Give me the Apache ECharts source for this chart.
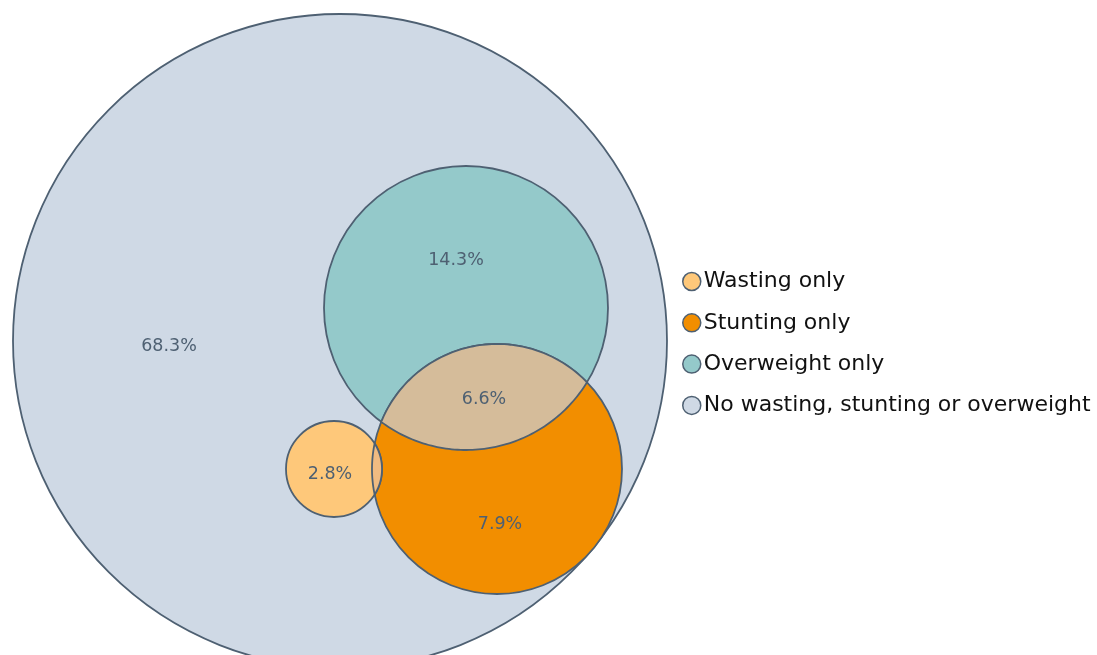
<!DOCTYPE html>
<html>
<head>
<meta charset="utf-8">
<script src="https://cdn.jsdelivr.net/npm/echarts@6/dist/echarts.min.js"></script>
<style>
  html, body { margin: 0; padding: 0; background: #fff; }
  #chart { width: 1097px; height: 655px; }
</style>
</head>
<body>
<div id="chart"></div>
<script>
// ---- data ----
const groupNames = ['No wasting, stunting or overweight', 'Overweight only', 'Stunting only', 'Wasting only'];
const groupShares = [68.3, 14.3, 7.9, 2.8];
const overlapName = 'Stunting and overweight';
const overlapShare = 6.6;
const legendOrder = ['Wasting only', 'Stunting only', 'Overweight only', 'No wasting, stunting or overweight'];

// ---- layout (Euler diagram geometry, layout units) ----
const circleCx = [340, 466, 497, 334];
const circleCy = [341, 308, 469, 469];
const circleR = [327, 142, 125, 48];
const labelPosX = [169, 456, 500, 330];
const labelPosY = [346, 260, 524, 474];
const overlapLabelPos = [484, 399];

// ---- styles ----
const fills = ['#CFD9E5', '#94C9CA', '#F28E00', '#FEC87A'];
const lensFills = { '1-2': '#D5BC9A', '3-2': '#F0BB81' };
const strokeColor = '#4E6072';
const labelColor = '#4E6072';
const FONT = '"DejaVu Sans", Verdana, sans-serif';

function circleItem(api, cx, cy, r, fill) {
  const c = api.coord([cx, cy]);
  const rr = api.size([r, 0])[0];
  return {
    type: 'circle',
    shape: { cx: c[0], cy: c[1], r: rr },
    style: { fill: fill, stroke: strokeColor, lineWidth: 1.8 }
  };
}

function textItem(api, x, y, txt) {
  const p = api.coord([x, y]);
  return {
    type: 'text',
    x: p[0], y: p[1],
    z2: 10,
    style: { text: txt, fill: labelColor, font: '17.5px ' + FONT, align: 'center', verticalAlign: 'middle' }
  };
}

function lensPoints(api, i, j) {
  const A = api.coord([circleCx[i], circleCy[i]]);
  const B = api.coord([circleCx[j], circleCy[j]]);
  const rA = api.size([circleR[i], 0])[0];
  const rB = api.size([circleR[j], 0])[0];
  const dx = B[0] - A[0], dy = B[1] - A[1];
  const d = Math.sqrt(dx * dx + dy * dy);
  const a = (rA * rA - rB * rB + d * d) / (2 * d);
  const b = d - a;
  const alpha = Math.acos(Math.max(-1, Math.min(1, a / rA)));
  const beta = Math.acos(Math.max(-1, Math.min(1, b / rB)));
  const phi = Math.atan2(dy, dx);
  const psi = phi + Math.PI;
  const pts = [];
  const N = 80;
  for (let k = 0; k <= N; k++) {
    const t = phi + alpha - (2 * alpha) * k / N;
    pts.push([A[0] + rA * Math.cos(t), A[1] + rA * Math.sin(t)]);
  }
  for (let k = 0; k <= N; k++) {
    const t = psi + beta - (2 * beta) * k / N;
    pts.push([B[0] + rB * Math.cos(t), B[1] + rB * Math.sin(t)]);
  }
  return pts;
}

const series = groupNames.map(function (name, idx) {
  return {
    name: name,
    type: 'custom',
    coordinateSystem: 'cartesian2d',
    silent: true,
    itemStyle: { color: fills[idx], borderColor: strokeColor, borderWidth: 1.5 },
    data: [[circleCx[idx], circleCy[idx], groupShares[idx]]],
    renderItem: function (params, api) {
      return {
        type: 'group',
        children: [
          circleItem(api, circleCx[idx], circleCy[idx], circleR[idx], fills[idx]),
          textItem(api, labelPosX[idx], labelPosY[idx], groupShares[idx].toFixed(1) + '%')
        ]
      };
    }
  };
});

series.push({
  name: overlapName,
  type: 'custom',
  coordinateSystem: 'cartesian2d',
  silent: true,
  data: [[overlapLabelPos[0], overlapLabelPos[1], overlapShare]],
  renderItem: function (params, api) {
    return {
      type: 'group',
      children: [
        {
          type: 'polygon',
          shape: { points: lensPoints(api, 1, 2) },
          style: { fill: lensFills['1-2'], stroke: strokeColor, lineWidth: 1.8 }
        },
        {
          type: 'polygon',
          shape: { points: lensPoints(api, 3, 2) },
          style: { fill: lensFills['3-2'], stroke: strokeColor, lineWidth: 1.8 }
        },
        textItem(api, overlapLabelPos[0], overlapLabelPos[1], overlapShare.toFixed(1) + '%')
      ]
    };
  }
});

const chart = echarts.init(document.getElementById('chart'), null, { renderer: 'canvas' });
chart.setOption({
  animation: false,
  backgroundColor: '#ffffff',
  grid: { left: 0, right: 0, top: 0, bottom: 0 },
  xAxis: { type: 'value', min: 0, max: 1097, show: false },
  yAxis: { type: 'value', min: 0, max: 655, inverse: true, show: false },
  legend: {
    data: legendOrder,
    orient: 'vertical',
    left: 677,
    top: 265.5,
    itemWidth: 18,
    itemHeight: 18,
    itemGap: 19.3,
    icon: 'circle',
    selectedMode: false,
    itemStyle: { borderColor: strokeColor, borderWidth: 1.5 },
    textStyle: { fontSize: 22, fontFamily: FONT, color: '#111111', padding: [0, 0, 0, -2] }
  },
  series: series
});
</script>
</body>
</html>
